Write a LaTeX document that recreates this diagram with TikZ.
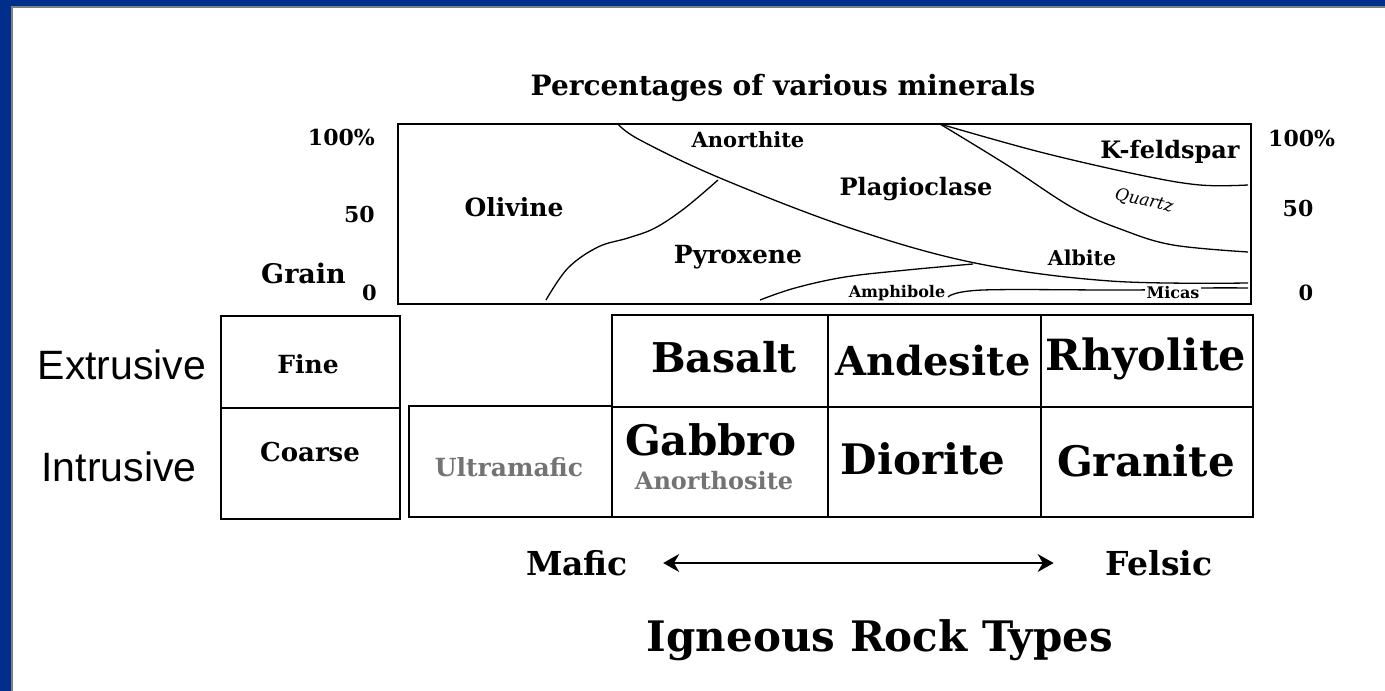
\documentclass[tikz,border=0pt]{standalone}
\usepackage{fontspec}
\setmainfont{DejaVu Serif}
\newfontfamily\arialfont{Liberation Sans}
\usetikzlibrary{positioning,arrows.meta}

\definecolor{slideblue}{RGB}{0,46,140}
\definecolor{rockgray}{RGB}{115,115,115}

\tikzset{
  box/.style={draw, line width=1.6pt},
  curve/.style={line width=1.3pt, line join=round},
  txt/.style={inner sep=0pt, font=\bfseries\fontsize{#1}{#1}\selectfont},
  side/.style={inner sep=0pt, font=\arialfont\fontsize{#1}{#1}\selectfont},
  faint/.style={txt=#1, text=rockgray},
}

\begin{document}
\begin{tikzpicture}[x=1pt, y=-1pt]
    \useasboundingbox (0,0) rectangle (1385,691);
    % slide frame
    \fill[slideblue] (0,0) rectangle (1385,6);
    \fill[slideblue] (0,0) rectangle (11,691);
    \draw[gray, line width=1.2pt] (12,691) |- (1385,7);

    \node[txt=28] (title) at (783,88) {Percentages of various minerals};

    % mineral chart
    \draw[box] (398,124) rectangle (1251,304);
    \draw[curve] plot[smooth, tension=0.6] coordinates {(618,124) (640,140) (720,178) (850,228) (975,263) (1110,281) (1248,283)};
    \draw[curve] plot[smooth, tension=0.6] coordinates {(546,300) (568,268) (598,247) (628,238) (655,228) (685,208) (718,180)};
    \draw[curve] plot[smooth, tension=0.6] coordinates {(760,300) (795,288) (845,277) (907,270) (973,264)};
    \draw[curve] plot[smooth, tension=0.6] coordinates {(948,297) (983,290) (1133,290) (1205,288) (1248,288)};
    \draw[curve] plot[smooth, tension=0.6] coordinates {(940,124) (1040,152) (1140,175) (1200,185) (1248,185)};
    \draw[curve] plot[smooth, tension=0.6] coordinates {(940,124) (1007,165) (1073,208) (1123,230) (1173,245) (1248,252)};

    \node[txt=22, anchor=east] (lefttop) at (375,137) {100\%};
    \node[txt=22, anchor=east] (leftmid) at (375,214) {50};
    \node[txt=27, anchor=west] (grain) at (261,273) {Grain};
    \node[txt=21, anchor=east] (leftlow) at (377,293) {0};
    \node[txt=22, anchor=west] (righttop) at (1268,138) {100\%};
    \node[txt=22] (rightmid) at (1298,208) {50};
    \node[txt=21] (rightlow) at (1306,293) {0};

    \node[txt=25] (olivine) at (514,207) {Olivine};
    \node[txt=21] (anorthite) at (748,140) {Anorthite};
    \node[txt=25] (pyroxene) at (738,257) {Pyroxene};
    \node[txt=24] (plagio) at (916,189) {Plagioclase};
    \node[txt=24] (kfeld) at (1170,152) {K-feldspar};
    \node[inner sep=0pt, font=\itshape\fontsize{17}{17}\selectfont, rotate=-12] (quartz) at (1144,201) {Quartz};
    \node[txt=20.5] (albite) at (1082,258) {Albite};
    \node[txt=16, fill=white, inner sep=1pt] (amphi) at (897,293) {Amphibole};
    \node[txt=16, fill=white, inner sep=2pt] (micas) at (1173,293) {Micas};

    % rock table
    \draw[box] (221,316) rectangle (400,519);
    \draw[box] (221,408) -- (400,408);
    \draw[box] (409,406) rectangle (612,517);
    \draw[box] (612,315) rectangle (1253,517);
    \draw[box] (612,407) -- (1253,407);
    \draw[box] (828,315) -- (828,517);
    \draw[box] (1041,315) -- (1041,517);

    \node[side=41] (extr) at (122,365) {Extrusive};
    \node[side=41] (intr) at (119,467) {Intrusive};
    \node[txt=25] (fine) at (308,364) {Fine};
    \node[txt=26] (coarse) at (310,452) {Coarse};
    \node[faint=25] (ultra) at (509,467) {Ultramafic};
    \node[txt=41] (basalt) at (724,357) {Basalt};
    \node[txt=40] (andesite) at (933,361) {Andesite};
    \node[txt=43] (rhyolite) at (1146,359) {Rhyolite};
    \node[txt=42] (gabbro) at (711,440) {Gabbro};
    \node[faint=24] (anortho) at (714,481) {Anorthosite};
    \node[txt=42] (diorite) at (923,459) {Diorite};
    \node[txt=42] (granite) at (1146,461) {Granite};

    % mafic to felsic
    \node[txt=33] (mafic) at (577,563) {Mafic};
    \node[txt=33] (felsic) at (1159,563) {Felsic};
    \draw[{Stealth[length=16pt,width=18pt]}-{Stealth[length=16pt,width=18pt]}, line width=1.6pt]
        ([xshift=35pt]mafic.east) -- ([xshift=-52pt]felsic.west);

    \node[txt=42] (rocktypes) at (880,640) {Igneous Rock Types};
\end{tikzpicture}
\end{document}
